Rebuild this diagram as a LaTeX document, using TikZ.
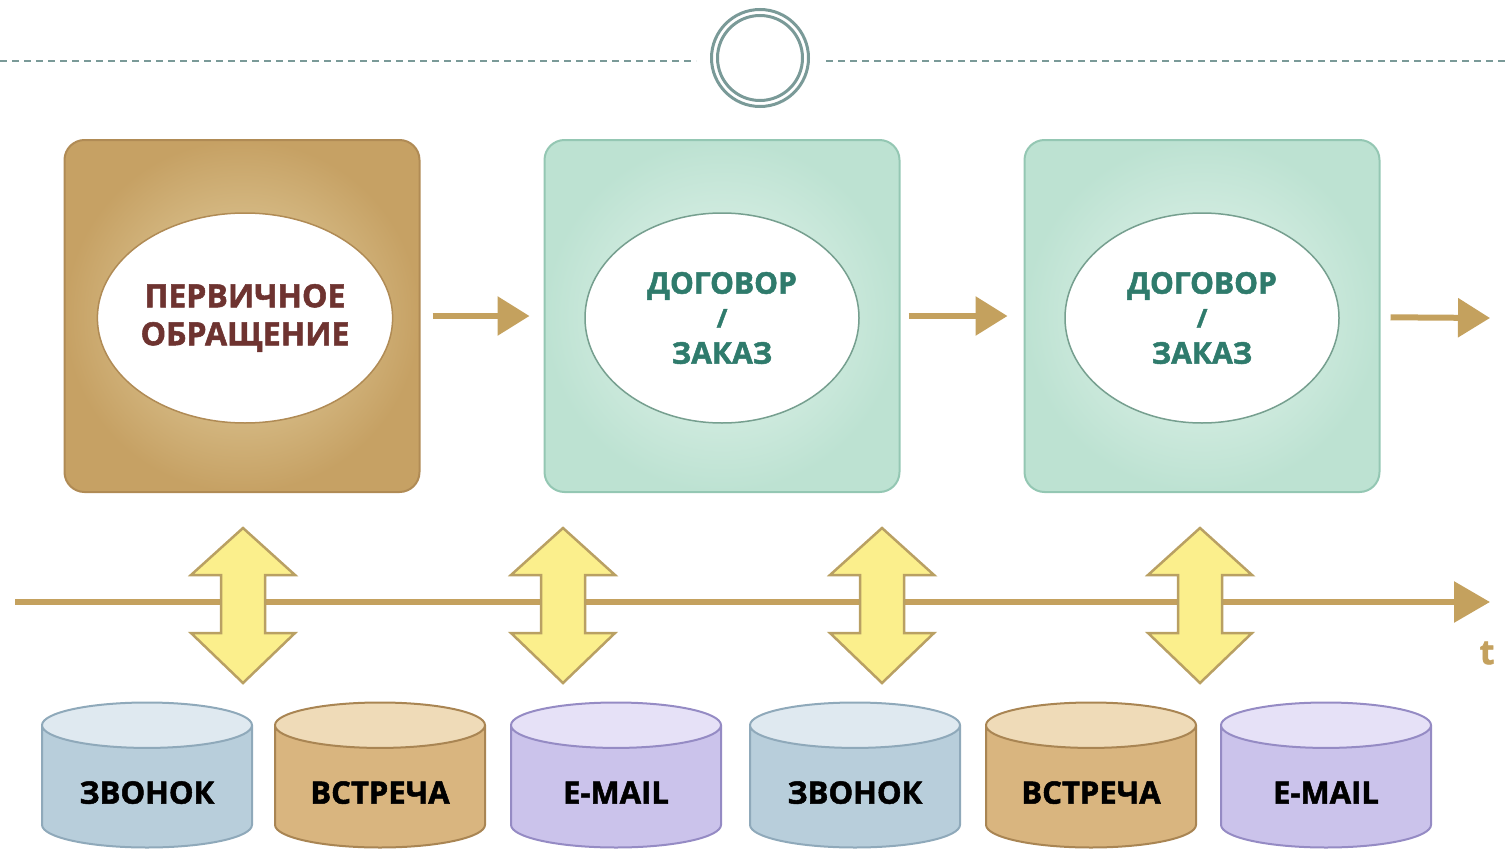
\documentclass[tikz,border=0pt]{standalone}
\usepackage{fontspec}
\setmainfont{Open Sans}[BoldFeatures={FakeBold=1.6}]
\usetikzlibrary{shapes,positioning,arrows.meta,calc}
\definecolor{tanline}{HTML}{C4A15E}
\definecolor{dashgray}{HTML}{7A9A98}
\definecolor{brownedge}{HTML}{B08B55}
\definecolor{brownout}{HTML}{C6A164}
\definecolor{brownin}{HTML}{E6D5A8}
\definecolor{brownink}{HTML}{6E3330}
\definecolor{greenedge}{HTML}{94C7B3}
\definecolor{greenout}{HTML}{BDE2D2}
\definecolor{greenin}{HTML}{E6F5EE}
\definecolor{greenink}{HTML}{2F7B6C}
\definecolor{yellowfill}{HTML}{FBEF8C}
\definecolor{yellowedge}{HTML}{B9A063}
\definecolor{phoneedge}{HTML}{8FA9BA}
\definecolor{phonebody}{HTML}{B8CEDB}
\definecolor{phoneend}{HTML}{DFE9F0}
\definecolor{meetedge}{HTML}{A98553}
\definecolor{meetbody}{HTML}{D9B57F}
\definecolor{meetend}{HTML}{EFDBB8}
\definecolor{mailedge}{HTML}{958BC4}
\definecolor{mailbody}{HTML}{CBC3EB}
\definecolor{mailend}{HTML}{E6E1F7}
\tikzstyle{stage} = [rounded corners=20pt, minimum width=355pt, minimum height=352pt, line width=2pt, shading=radial]
\tikzstyle{brownstage} = [stage, draw=brownedge, inner color=brownin, outer color=brownout]
\tikzstyle{greenstage} = [stage, draw=greenedge, inner color=greenin, outer color=greenout]
\tikzstyle{oval} = [ellipse, fill=white, line width=1.5pt, inner sep=0pt, minimum width=274pt, minimum height=210pt, align=center, font=\bfseries\fontsize{30}{38}\selectfont]
\tikzstyle{arrow} = [line width=6pt, draw=tanline, -{Triangle[length=32pt,width=38pt]}]
\tikzstyle{channel} = [cylinder, shape border rotate=90, aspect=0.29, line width=2pt, minimum width=210pt, minimum height=145pt, anchor=shape center, text width=150pt, align=center, text height=28pt, text depth=0pt, cylinder uses custom fill, font=\bfseries\fontsize{31}{36}\selectfont]
\tikzstyle{zvonok} = [channel, draw=phoneedge, cylinder body fill=phonebody, cylinder end fill=phoneend]
\tikzstyle{vstrecha} = [channel, draw=meetedge, cylinder body fill=meetbody, cylinder end fill=meetend]
\tikzstyle{email} = [channel, draw=mailedge, cylinder body fill=mailbody, cylinder end fill=mailend]
\begin{document}
\begin{tikzpicture}[x=1pt,y=-1pt]
\useasboundingbox (0,0) rectangle (1507,851);

% header
\node[circle, draw=dashgray, line width=3pt, minimum size=97pt] (ring) at (760,58) {};
\node[circle, draw=dashgray, line width=3pt, minimum size=85pt] (ringin) at (760,58) {};
\coordinate (hl) at (0,61);
\coordinate (hr) at (1507,61);
\draw[dashgray, line width=2.5pt, dash pattern=on 7pt off 5pt] (hl) -- ($(ring.west)+(-14,3)$);
\draw[dashgray, line width=2.5pt, dash pattern=on 7pt off 5pt] ($(ring.east)+(16,3)$) -- (hr);

% stages
\node[brownstage] (first) at (242,316) {};
\node[greenstage] (deal1) at (722,316) {};
\node[greenstage] (deal2) at (1202,316) {};

\node[oval, draw=brownedge, text=brownink, font=\bfseries\fontsize{32}{38}\selectfont] (firstov) at (245,318) {ПЕРВИЧНОЕ\\ОБРАЩЕНИЕ};
\node[oval, draw=greenedge!80!black, text=greenink] (deal1ov) at (722,318) {ДОГОВОР\\[-4pt]{\fontsize{26}{30}\selectfont /}\\[-2pt]ЗАКАЗ};
\node[oval, draw=greenedge!80!black, text=greenink] (deal2ov) at (1202,318) {ДОГОВОР\\[-4pt]{\fontsize{26}{30}\selectfont /}\\[-2pt]ЗАКАЗ};

\coordinate (next) at (1490,318);
\draw[arrow, shorten <=12pt, shorten >=14pt] (first) -- (deal1);
\draw[arrow, shorten <=8pt, shorten >=16pt] (deal1) -- (deal2);
\draw[arrow, shorten <=10pt] (deal2) -- (next);

% time axis
\coordinate (tstart) at (15,602);
\coordinate (tend) at (1490,602);
\draw[line width=6pt, draw=tanline, -{Triangle[length=36pt,width=40pt]}] (tstart) -- (tend);
\node[text=tanline, font=\bfseries\fontsize{34}{34}\selectfont] (t) at (1487,653) {t};

% links
\foreach \x in {243,563,882,1200}
  \draw[fill=yellowfill, draw=yellowedge, line width=2.5pt, line join=miter]
    (\x,528) -- (\x+52,575) -- (\x+22,575) -- (\x+22,633) -- (\x+52,633) -- (\x,683)
    -- (\x-52,633) -- (\x-22,633) -- (\x-22,575) -- (\x-52,575) -- cycle;

% channels
\node[zvonok] (call1) at (147,775) {ЗВОНОК};
\node[vstrecha] (meet1) at (380,775) {ВСТРЕЧА};
\node[email] (mail1) at (616,775) {E-MAIL};
\node[zvonok] (call2) at (855,775) {ЗВОНОК};
\node[vstrecha] (meet2) at (1091,775) {ВСТРЕЧА};
\node[email] (mail2) at (1326,775) {E-MAIL};

\end{tikzpicture}
\end{document}
